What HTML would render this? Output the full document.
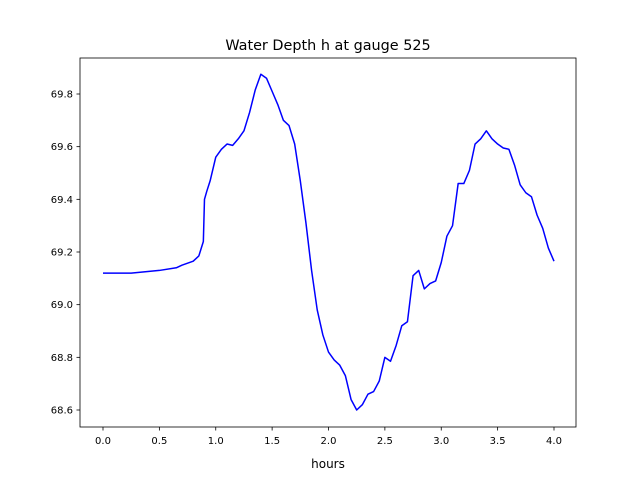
<!DOCTYPE html>
<html><head><meta charset="utf-8"><style>
html,body{margin:0;padding:0;background:#fff;}
svg{display:block;font-family:"DejaVu Sans","Liberation Sans",sans-serif;}
</style></head><body>
<svg id="chart" width="640" height="480" viewBox="0 0 640 480" xmlns="http://www.w3.org/2000/svg">
<rect width="640" height="480" fill="#fff"/>
<text x="328" y="50" font-size="14.4" text-anchor="middle" fill="#000">Water Depth h at gauge 525</text>
<text x="328" y="468" font-size="12" text-anchor="middle" fill="#000">hours</text>
<g id="plot"></g>
</svg>
<script>
const times = [0,0.25,0.5,0.65,0.7,0.8,0.85,0.89,0.9,0.92,0.95,1.0,1.05,1.1,1.15,1.2,1.25,1.3,1.35,1.4,1.45,1.5,1.55,1.6,1.65,1.7,1.75,1.8,1.85,1.9,1.95,2.0,2.05,2.1,2.15,2.2,2.25,2.3,2.35,2.4,2.45,2.5,2.55,2.6,2.65,2.7,2.75,2.8,2.85,2.9,2.95,3.0,3.05,3.1,3.15,3.2,3.25,3.3,3.35,3.4,3.45,3.5,3.55,3.6,3.65,3.7,3.75,3.8,3.85,3.9,3.95,4.0];
const depths = [69.12,69.12,69.13,69.14,69.15,69.165,69.185,69.24,69.40,69.43,69.47,69.56,69.59,69.61,69.605,69.63,69.66,69.73,69.815,69.875,69.86,69.81,69.76,69.70,69.68,69.61,69.47,69.31,69.13,68.98,68.885,68.82,68.79,68.77,68.73,68.64,68.60,68.62,68.66,68.67,68.71,68.80,68.785,68.845,68.92,68.935,69.11,69.13,69.06,69.08,69.09,69.16,69.26,69.30,69.46,69.46,69.51,69.61,69.63,69.66,69.63,69.61,69.595,69.59,69.53,69.455,69.425,69.41,69.34,69.29,69.215,69.165];
const xTicks = [0,0.5,1.0,1.5,2.0,2.5,3.0,3.5,4.0];
const xTickLabels = ["0.0","0.5","1.0","1.5","2.0","2.5","3.0","3.5","4.0"];
const yTicks = [68.6,68.8,69.0,69.2,69.4,69.6,69.8];
const yTickLabels = ["68.6","68.8","69.0","69.2","69.4","69.6","69.8"];

const L=80,R=576,T=58,B=427;
const xs = t => 103 + (t-0)*(554-103)/4;
const ys = v => 94 + (69.8-v)*(410-94)/1.2;
const NS="http://www.w3.org/2000/svg";
const g=document.getElementById('plot');
function mk(tag,attrs){const e=document.createElementNS(NS,tag);for(const k in attrs)e.setAttribute(k,attrs[k]);g.appendChild(e);return e;}

let d=times.map((t,i)=>(i?'L':'M')+xs(t).toFixed(2)+','+ys(depths[i]).toFixed(2)).join(' ');
const line=mk('path',{d:d,fill:'none',stroke:'#0000ff','stroke-width':1.5,'stroke-linejoin':'round'});



const frame=mk('rect',{x:L,y:T,width:R-L,height:B-T,fill:'none',stroke:'#000','stroke-width':0.8});



xTicks.forEach((t,i)=>{
  const x=xs(t);
  const tk=mk('line',{x1:x,x2:x,y1:B,y2:B+3.5,stroke:'#000','stroke-width':0.8});
  
  
  const lb=mk('text',{x:x,y:B+17,'font-size':10,'text-anchor':'middle',fill:'#000'});
  lb.textContent=xTickLabels[i];
  
  
});
yTicks.forEach((v,i)=>{
  const y=ys(v);
  const tk=mk('line',{x1:L-3.5,x2:L,y1:y,y2:y,stroke:'#000','stroke-width':0.8});
  
  
  const lb=mk('text',{x:L-7,y:y+3.5,'font-size':10,'text-anchor':'end',fill:'#000'});
  lb.textContent=yTickLabels[i];
  
  
});
</script>
</body></html>
